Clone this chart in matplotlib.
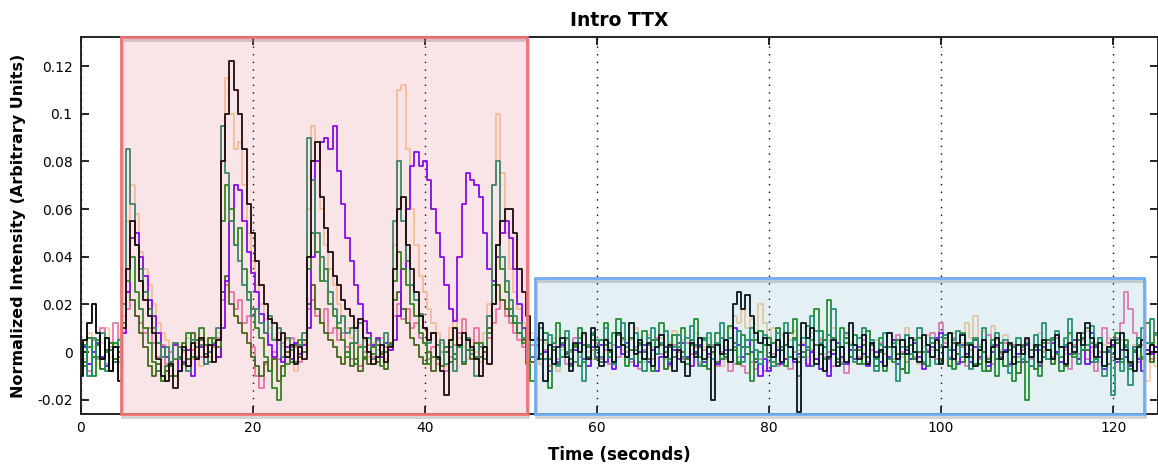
import numpy as np
import matplotlib
matplotlib.use("Agg")
import matplotlib.pyplot as plt
from matplotlib.patches import Rectangle
from matplotlib.transforms import offset_copy

# sampling step of the traces (seconds); values below are in 1e-3 units
dt = 0.5

black = [
    -10, 5, 12, 20, 8, -3, 6, -8, 2, -12, 10, 35, 55, 45, 30, 22, 15, 8, -3, -10,
    -12, -5, -15, -8, 2, -6, 4, -3, 6, -2, 3, -4, 5, 80, 100, 122, 110, 100, 85, 62,
    50, 38, 28, 20, 14, 12, 5, 8, -2, 3, -5, 2, -3, 40, 80, 88, 65, 52, 42, 32,
    28, 22, 18, 15, 10, 14, 6, 0, -5, -2, 3, -4, 2, 35, 60, 65, 45, 35, 25, 15,
    10, 5, 8, -2, -8, -18, 5, 10, 3, 8, 5, 2, -3, -10, 2, -5, 20, 45, 55, 60,
    60, 50, 35, 25, 15, 5, -3, 12, -12, 3, -5, 2, 6, -2, -8, 4, 0, 8, -3, 10,
    2, -6, 5, 1, -4, 8, 3, -2, 12, -1, 5, -3, 4, -6, 2, 7, -2, 3, -8, 1,
    -4, -10, 4, -2, 6, -3, 2, -20, 3, -1, 5, -4, 20, 25, 18, 24, 15, 8, 4, 6,
    3, -2, 5, -4, 8, 2, -3, -25, 12, 6, 10, -5, 3, -8, -2, 5, -6, 2, -4, 12,
    3, -3, 7, -5, 4, -2, 1, -6, 8, 2, -3, 5, -1, 6, 0, -4, 7, 3, -2, 5,
    -5, 2, 8, -3, 4, 7, -2, 3, -6, 1, 5, -4, 2, 6, -3, 0, 4, -5, 3, -1,
    6, -2, 3, -4, 5, 1, -3, 7, 2, -5, 4, 0, 8, 3, 12, 6, -2, 4, -6, 2,
    5, -3, 8, 1, -4, -8, 2, 5, -1, 3, 0,
]
purple = [
    -3, 2, -5, 0, 4, -2, -6, 1, -4, 2, 8, 25, 48, 50, 40, 32, 22, 15, 8, 2,
    -2, -6, 3, -8, -4, 1, -10, -3, 2, -5, 0, 3, -2, 10, 30, 55, 70, 68, 55, 42,
    33, 25, 16, 8, 3, -2, 5, -4, 2, -3, 4, -1, 3, 10, 40, 80, 88, 90, 85, 95,
    76, 62, 48, 38, 28, 20, 13, 8, 3, 6, -2, 4, 1, 5, 15, 35, 60, 78, 84, 78,
    80, 72, 60, 50, 40, 28, 18, 13, 40, 62, 75, 72, 70, 65, 50, 35, 30, 40, 50, 55,
    48, 35, 20, 10, 3, -2, 5, -3, 0, -8, 2, -4, 3, -1, -5, 1, 4, -3, -6, 2,
    -2, 3, -4, 1, -7, 2, -1, 4, -3, -6, 0, 3, -4, 1, -8, -2, 2, -5, 1, -3,
    4, -2, -6, 0, 3, -4, -1, 2, -5, -3, 1, 6, 10, 3, -2, 5, 0, -4, -10, -3,
    -8, -2, 1, -5, -3, 2, -4, -1, 3, -6, 0, -3, -7, 2, -10, -1, 4, -2, -5, 1,
    -3, 2, -1, -6, 3, 0, -4, 2, -2, 5, -5, -1, 1, -3, 4, -2, -7, 0, 2, 6,
    8, 2, -3, 1, -5, 3, -1, -4, 2, -2, 5, -6, 0, 3, -3, 1, -5, 2, -1, -4,
    3, -2, 1, -6, 2, -3, 4, 0, -4, 2, -1, 5, -3, 1, -5, 8, 2, -2, -7, 0,
    3, -4, 1, -2, -6, 2, -3, -8, 1, -1, 2,
]
peach = [
    5, -3, 8, 2, -5, 4, 10, -2, 3, 6, 15, 55, 70, 58, 42, 35, 28, 20, 12, 8,
    5, -5, 3, -8, 0, 6, -3, 4, -6, 2, -2, 5, 8, 95, 115, 100, 85, 88, 70, 50,
    38, 28, 20, 14, 10, 6, 8, 2, 5, -3, -8, 0, 4, 60, 95, 80, 60, 45, 35, 28,
    20, 15, 10, 6, 9, 3, 5, -2, 4, 1, 6, -3, 2, 45, 110, 112, 85, 60, 45, 32,
    25, 18, 12, 8, 4, -6, 10, 14, 6, 2, -3, 5, 0, -4, 8, 20, 70, 100, 75, 50,
    35, 25, 18, 12, 6, 8, 2, -5, 4, -3, 6, -8, 1, 5, -4, 3, -2, 7, 0, -3,
    4, -3, 6, 2, -5, 8, 1, -2, 5, 10, 3, -4, 7, 2, -1, 6, -3, 4, 9, 1,
    5, -2, 3, 8, -4, 2, 6, -1, 4, -6, 2, 10, 15, 12, 18, 10, 14, 8, 20, 12,
    6, 10, 2, 7, -3, 5, 9, 1, 4, -2, 8, 3, 6, -1, 5, 10, 2, -3, 7, 4,
    1, 6, -2, 9, 3, 5, -4, 2, 8, 0, 4, -2, 10, 3, 6, -5, 2, 7, 1, 4,
    -3, 5, 2, 8, -1, 4, 12, 6, 15, 3, 9, -2, 11, 5, 1, 7, -4, 3, 6, -1,
    4, -6, 2, 8, 1, 5, -3, 6, 2, -1, 7, 3, -2, 5, 9, 0, 4, -4, 3, 6,
    2, -3, 5, 1, -5, 3, -2, -8, -12, 4, -6,
]
pink = [
    -2, 3, -8, 5, -3, 10, -5, 2, 12, -4, 8, 18, 22, 15, 12, 8, 10, 4, -2, 3,
    -5, 0, 4, -3, 2, -6, 1, 5, -2, 3, -4, 2, 6, 22, 28, 25, 18, 22, 12, 15,
    2, -10, -15, -5, -8, 0, -3, 4, -2, 6, 2, -4, 3, 18, 22, 15, 12, 18, 8, 10,
    5, 8, 2, -3, 4, -6, 0, 3, -2, 5, -1, 2, 4, 15, 20, 14, 18, 10, 12, 6,
    4, -3, 2, -5, 0, -8, -2, 3, 8, 14, 5, 2, 10, 4, -3, 6, 12, 18, 22, 15,
    12, 8, 5, 2, -4, 3, -2, 5, 1, -6, 4, -3, 2, -5, 0, 6, -2, 3, -6, 1,
    4, -3, 1, -5, 3, -2, 5, 0, -4, 2, -7, 1, 4, -3, 6, -1, 2, -6, 3, 0,
    -3, 4, -1, 2, -5, 1, -2, 3, -6, 0, -3, -8, -5, -2, -6, -9, -4, -7, -3, -8,
    -4, -1, -6, 2, -3, -7, 0, -2, 3, -5, 1, -3, 5, -2, 0, -6, 2, -4, -9, 1,
    3, -2, 5, -4, 1, -6, 4, -1, 2, -3, 7, 0, -4, 3, -2, 6, -5, 1, 8, -3,
    12, 4, -2, 6, -4, 2, -6, 1, 5, -3, 0, 7, -5, 2, -1, 4, -6, 3, -2, 1,
    5, -3, 2, -5, 0, 4, -2, 6, -4, 1, -7, 3, -1, 5, -3, 2, -8, 0, 10, 4,
    -2, 6, 12, 25, 18, 8, -4, 3, 1, -3, 2,
]
green = [
    3, -6, 2, -10, 5, -3, 0, -8, 4, -2, 12, 30, 40, 25, 18, 10, 4, -4, -8, -12,
    -6, -10, -3, 2, -5, 8, -2, 5, 10, 3, -4, 6, 2, 55, 70, 60, 45, 52, 35, 25,
    18, 10, 6, -2, -8, -15, -20, -10, -5, 2, -4, 5, 0, 35, 50, 42, 30, 35, 20, 15,
    10, 5, -2, 4, -5, 2, -3, 6, -1, 3, -6, 0, 4, 30, 42, 35, 28, 20, 15, 8,
    4, -5, -2, 3, -6, 0, 5, -3, 2, -4, 6, 1, -2, 4, 0, 8, 28, 45, 35, 25,
    18, 12, 8, 4, -5, -12, 6, -3, 8, -15, 4, 12, -2, 6, -6, 3, 10, -4, 2, 7,
    -3, 5, 12, -2, 8, 14, 3, -6, 6, 1, -4, 9, 3, -8, 5, 12, 0, -3, 7, 2,
    10, -5, 3, 14, -2, 6, -7, 2, 8, -3, 5, 11, 1, -4, 7, 2, -12, 5, 9, 3,
    6, -4, 10, 2, -6, 8, 14, 3, -2, 11, 5, 18, 9, 2, 22, 6, -3, 10, 4, -2,
    7, 1, -5, 9, 3, -3, 6, -8, 2, -4, 5, -1, -9, 3, -3, 6, 0, -6, 4, 1,
    -4, 6, 1, -7, 3, 8, -2, 4, -5, 2, -8, -3, 5, -10, 0, -6, 3, -12, -4, 2,
    -20, -6, 2, -10, 4, -3, 6, -1, -8, 3, 8, -2, 5, 1, 10, 4, -3, 6, 0, -5,
    2, 8, -4, 5, -7, 1, 6, -3, 12, 4, 8,
]
darkgreen = [
    2, -4, 6, -2, 3, -7, 1, 4, -3, 0, 10, 25, 22, 15, 8, 2, -6, -10, -5, -12,
    -8, -4, -10, -2, 4, -3, 8, 2, 5, -1, 6, 3, -2, 25, 32, 20, 15, 12, 8, 4,
    -2, -6, -10, -4, -8, -3, -12, -6, 0, -4, 3, -2, 5, 20, 28, 18, 12, 8, 5, 2,
    -2, -5, 0, -6, -3, -8, -2, -5, 2, -4, -1, -7, 3, 22, 25, 18, 12, 6, 3, -2,
    -5, 0, -8, -3, -6, 2, -4, -1, 3, -5, 1, -3, 4, -2, 2, 10, 20, 28, 22, 18,
    15, 12, 8, 5, 2, -4, 3, -1, 5, -3, 1, -5, 4, 0, -3, 2, -6, 3, -2, 5,
    1, -4, 3, 0, -5, 2, 6, -2, 1, -6, 4, 0, -3, 5, -1, 3, -7, 2, -2, 4,
    0, -3, 5, -1, 2, -6, 3, 0, -4, 6, -2, 1, 4, -5, 2, -1, 5, -3, 0, 3,
    -2, 4, -5, 1, 3, -2, 6, -4, 0, 2, -6, 3, -1, 5, -3, 1, -4, 2, 6, -2,
    1, -5, 3, -2, 4, -6, 0, 2, -3, 5, -1, -7, 2, -3, 4, 0, -5, 3, -2, 1,
    -3, 2, -6, 4, -1, -4, 3, -2, 5, -5, 0, -8, 2, -3, 4, -6, 1, -2, -9, 3,
    -4, 1, -7, 3, -2, 5, -5, 0, 2, -6, 4, -1, -3, 6, 1, -4, 3, -2, -6, 2,
    -1, 4, -3, 2, -5, 0, 3, -2, 1, -4, 2,
]
teal = [
    -5, 3, -10, 6, -2, 8, -8, 1, -4, 5, 20, 85, 62, 45, 35, 25, 18, 10, 4, -2,
    2, -6, 4, -3, 1, -8, 5, -2, 3, -5, 0, 4, 10, 95, 75, 55, 45, 38, 28, 22,
    15, 18, 12, 8, 15, 5, 10, -2, 6, 1, -4, 3, 8, 90, 72, 50, 40, 30, 25, 18,
    12, 15, 8, 10, 4, 12, 2, 6, -3, 5, 0, 8, 3, 55, 80, 55, 38, 28, 22, 16,
    10, 4, 8, -2, 5, -5, 2, -8, 3, -4, 6, -1, -10, 2, -3, 15, 70, 80, 40, 30,
    22, 15, 12, 6, 8, -2, 5, 10, -3, 7, 2, -6, 4, 9, 1, -4, 6, -12, 3, 8,
    5, -2, 10, 4, -5, 7, 12, 2, -3, 8, 3, -8, 6, 10, -1, 4, 9, -4, 2, 7,
    -2, 6, 11, 3, -6, 5, 8, -3, 4, 12, -1, 6, 2, 9, -4, 5, 10, 1, -5, 7,
    3, -6, 8, 2, 12, -2, 5, -10, 6, 1, 15, 9, 4, -3, 7, 18, 2, -5, 8, 3,
    -4, 6, 10, -2, 5, -8, 3, 8, -3, 4, -12, 2, 7, -1, 5, 10, -4, 3, 6, -5,
    2, 7, -3, 5, 9, -2, 4, -7, 6, 1, 10, -4, 3, 8, -2, 5, -9, 2, 6, -3,
    4, -6, 7, 1, 12, -3, 5, 9, -2, 6, 14, 2, -5, 8, 3, 11, -4, 6, -10, 1,
    -18, 5, -8, 3, -14, 2, 6, 10, 4, 14, 7,
]

# drawing order, bottom to top
traces = [
    (peach, "#f9cfa4"),
    (pink, "#ee78b2"),
    (darkgreen, "#2f6c12"),
    (purple, "#7a00ff"),
    (green, "#1b8c1b"),
    (teal, "#24906c"),
    (black, "#000000"),
]

# highlighted time windows
red_box = (4.65, 51.9)
blue_box = (52.8, 123.6, 0.0312)

plt.rcParams["font.family"] = "DejaVu Sans"
fig = plt.figure(figsize=(11.58, 4.67), dpi=100)
ax = fig.add_axes([0.0699, 0.1135, 0.930, 0.8073])

ymin, ymax = -0.026, 0.1322
for vals, col in traces:
    y = np.asarray(vals) * 1e-3
    t = np.arange(len(y)) * dt
    ax.plot(t, y, color=col, lw=1.3, drawstyle="steps-mid", zorder=2)

ax.set_xlim(0, 125.2)
ax.set_ylim(ymin, ymax)

# translucent boxes over the traces, with a faint drop shadow
shadow = offset_copy(ax.transData, fig=fig, x=1, y=-3, units="dots")
x0, x1 = red_box
for (a, b, top), face, edge in [
    ((x0, x1, ymax), (0.85, 0.30, 0.35), "#f07272"),
    (blue_box, (0.30, 0.60, 0.75), "#72aaf2"),
]:
    ax.add_patch(Rectangle((a, ymin), b - a, top - ymin, transform=shadow,
                           fill=False, edgecolor="#9a9a9a", alpha=0.45, lw=2,
                           zorder=3, clip_on=False))
    ax.add_patch(Rectangle((a, ymin), b - a, top - ymin, facecolor=face,
                           alpha=0.14, edgecolor="none", zorder=3))
    ax.add_patch(Rectangle((a, ymin), b - a, top - ymin, fill=False,
                           edgecolor=edge, lw=2, zorder=4, clip_on=False))

ax.set_xticks([0, 20, 40, 60, 80, 100, 120])
ax.set_yticks([-0.02, 0, 0.02, 0.04, 0.06, 0.08, 0.1, 0.12])
ax.set_yticklabels(["-0.02", "0", "0.02", "0.04", "0.06", "0.08", "0.1", "0.12"])
ax.tick_params(direction="in", length=6, width=1.2, top=True, right=True,
               labelsize=10, pad=6)
ax.tick_params(axis="x", pad=5)
ax.grid(axis="x", color="k", lw=1, linestyle=(0, (1, 4.5)), zorder=1)
ax.set_axisbelow(True)
for s in ax.spines.values():
    s.set_linewidth(1.4)
    s.set_color("#222222")

ax.set_title("Intro TTX", fontsize=13.5, fontweight="bold", pad=8)
ax.set_xlabel("Time (seconds)", fontsize=12, fontweight="bold", labelpad=8)
ax.set_ylabel("Normalized Intensity (Arbitrary Units)", fontsize=11.5,
              fontweight="bold", labelpad=8)

fig.savefig("out.png", dpi=100)
